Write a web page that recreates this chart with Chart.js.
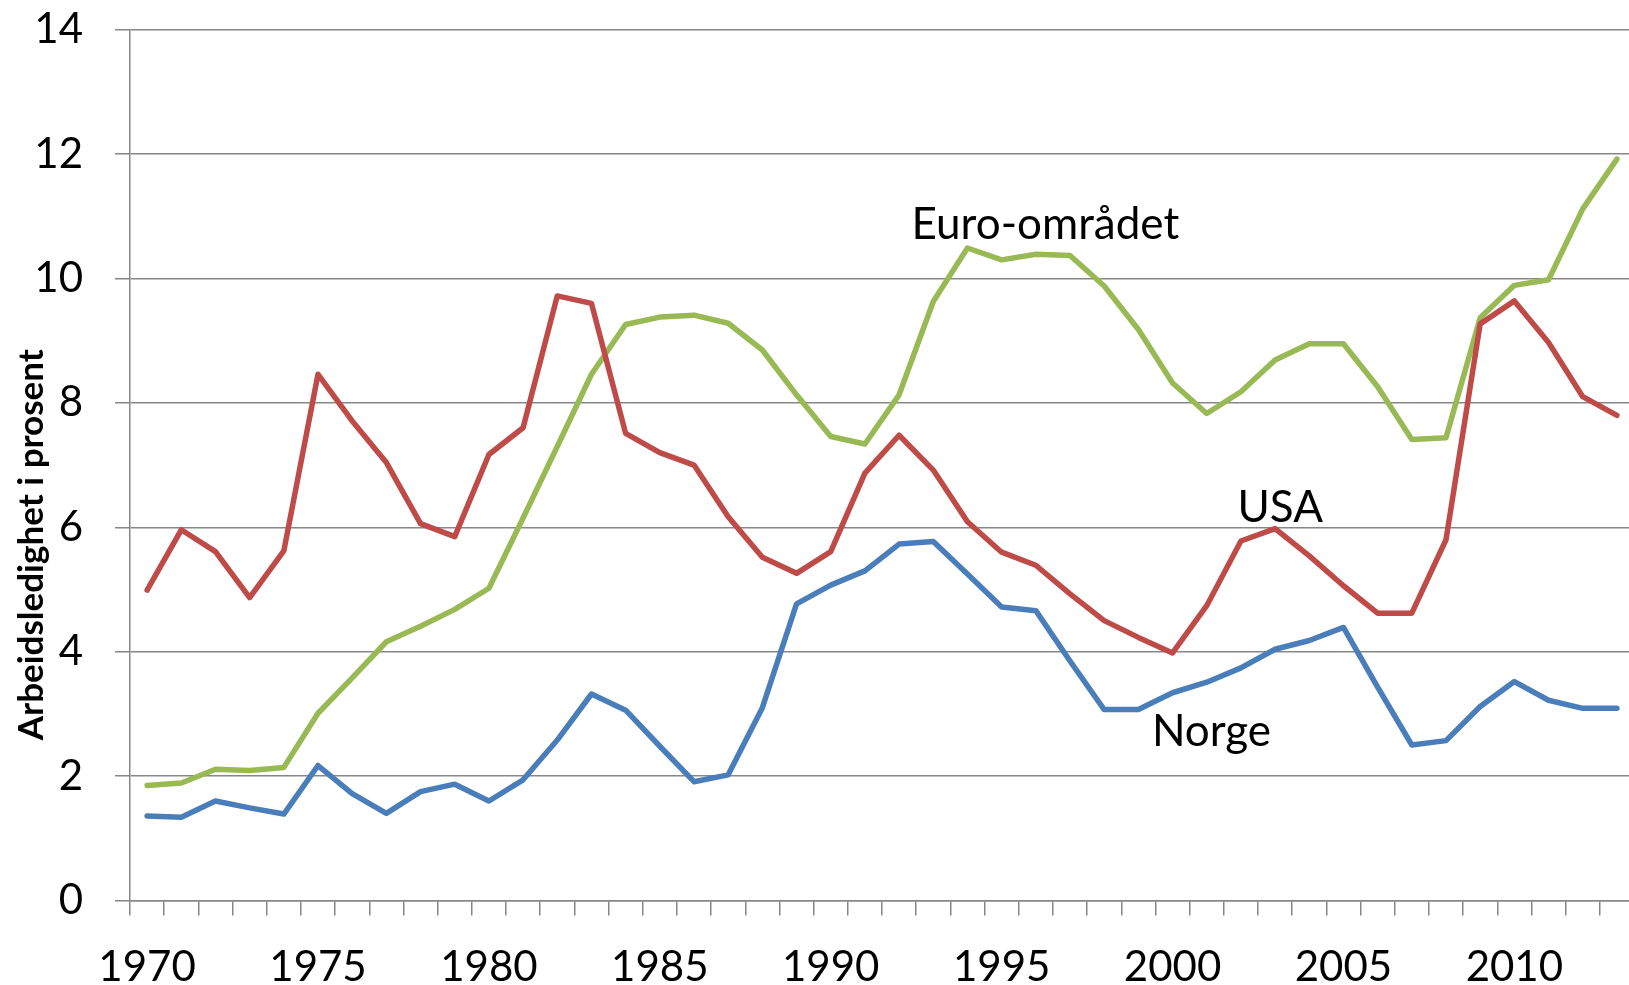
<!DOCTYPE html>
<html>
<head>
<meta charset="utf-8">
<script src="https://cdn.jsdelivr.net/npm/chart.js@4.4.1/dist/chart.umd.min.js"></script>
<style>
  html, body { margin: 0; padding: 0; background: #ffffff; overflow: hidden; }
  #wrap { position: relative; width: 1634px; height: 985px; }
</style>
</head>
<body>
<div id="wrap"><canvas id="c" width="1634" height="985"></canvas></div>
<script>
const years = [1970,1971,1972,1973,1974,1975,1976,1977,1978,1979,
               1980,1981,1982,1983,1984,1985,1986,1987,1988,1989,
               1990,1991,1992,1993,1994,1995,1996,1997,1998,1999,
               2000,2001,2002,2003,2004,2005,2006,2007,2008,2009,
               2010,2011,2012,2013];

const norge = [1.36,1.34,1.60,1.49,1.39,2.17,1.72,1.40,1.75,1.87,
               1.60,1.94,2.58,3.32,3.06,2.48,1.91,2.02,3.10,4.77,
               5.07,5.30,5.73,5.77,5.25,4.72,4.66,3.85,3.07,3.07,
               3.34,3.51,3.74,4.04,4.18,4.39,3.43,2.50,2.57,3.12,
               3.52,3.22,3.09,3.09];

const usa = [4.99,5.96,5.61,4.87,5.62,8.46,7.71,7.04,6.06,5.85,
             7.17,7.60,9.72,9.60,7.51,7.20,7.00,6.17,5.52,5.26,
             5.61,6.87,7.48,6.92,6.09,5.60,5.39,4.93,4.50,4.23,
             3.98,4.74,5.78,5.98,5.54,5.06,4.62,4.62,5.80,9.27,
             9.64,8.97,8.10,7.80];

const euro = [1.85,1.89,2.11,2.09,2.14,3.01,3.58,4.16,4.41,4.68,
              5.02,6.15,7.30,8.46,9.26,9.38,9.41,9.28,8.85,8.13,
              7.46,7.34,8.13,9.63,10.49,10.30,10.39,10.37,9.88,9.18,
              8.32,7.83,8.18,8.69,8.95,8.95,8.26,7.41,7.44,9.37,
              9.89,9.98,11.12,11.92];

const yTicks = [0,2,4,6,8,10,12,14];
const yTitle = "Arbeidsledighet i prosent";

// series labels: [text, category index, value at text baseline]
const seriesLabels = [
  ["Euro-området", 26.28, 10.63],
  ["USA", 33.15, 6.09],
  ["Norge", 31.14, 2.48]
];

const GRID = '#878787';
const FONT = 'Lato';

const labelPlugin = {
  id: 'labels',
  afterDraw(chart) {
    const ctx = chart.ctx;
    const xs = chart.scales.x, ys = chart.scales.y;
    ctx.save();
    ctx.fillStyle = '#000';
    ctx.font = '44px ' + FONT;
    ctx.textAlign = 'center';
    ctx.textBaseline = 'alphabetic';
    seriesLabels.forEach(([t, xi, v]) => {
      ctx.fillText(t, xs.getPixelForValue(xi), ys.getPixelForValue(v));
    });
    // y axis title
    ctx.font = 'bold 35px ' + FONT;
    ctx.translate(43, ys.getPixelForValue(5.72));
    ctx.rotate(-Math.PI / 2);
    ctx.textAlign = 'center';
    ctx.fillText(yTitle, 0, 0);
    ctx.restore();
  }
};

new Chart(document.getElementById('c'), {
  type: 'line',
  data: {
    labels: years,
    datasets: [
      { label: 'Norge', data: norge, borderColor: '#4A7EBB' },
      { label: 'USA', data: usa, borderColor: '#BE4B48' },
      { label: 'Euro-området', data: euro, borderColor: '#98B954' }
    ].map(d => Object.assign(d, {
      borderWidth: 5.5, pointRadius: 0, tension: 0, fill: false,
      borderJoinStyle: 'round', borderCapStyle: 'round'
    }))
  },
  options: {
    responsive: false,
    animation: false,
    devicePixelRatio: 1,
    layout: { padding: { top: 29.7, left: 0, right: 0, bottom: 0 } },
    plugins: { legend: { display: false }, tooltip: { enabled: false } },
    scales: {
      x: {
        type: 'category',
        offset: true,
        grid: { display: true, drawOnChartArea: false, drawTicks: true, tickLength: 15, offset: true, color: GRID, lineWidth: 1.5 },
        border: { display: true, color: GRID, width: 1.5 },
        ticks: {
          autoSkip: false, maxRotation: 0, minRotation: 0,
          color: '#000', font: { family: FONT, size: 42 }, padding: 27,
          callback: function(v, i) { const y = years[i]; return y % 5 === 0 ? String(y) : ''; }
        },
        afterFit(scale) { scale.height = 84.5; scale.paddingLeft = 0; scale.paddingRight = 0; }
      },
      y: {
        min: 0, max: 14,
        afterBuildTicks(scale) { scale.ticks = yTicks.map(v => ({ value: v })); },
        grid: { color: GRID, lineWidth: 1.5, drawTicks: true, tickLength: 15 },
        border: { display: true, color: GRID, width: 1.5 },
        ticks: { color: '#000', font: { family: FONT, size: 42 }, padding: 32 },
        afterFit(scale) { scale.width = 130; scale.paddingTop = 0; scale.paddingBottom = 0; }
      }
    }
  },
  plugins: [labelPlugin]
});
</script>
</body>
</html>
